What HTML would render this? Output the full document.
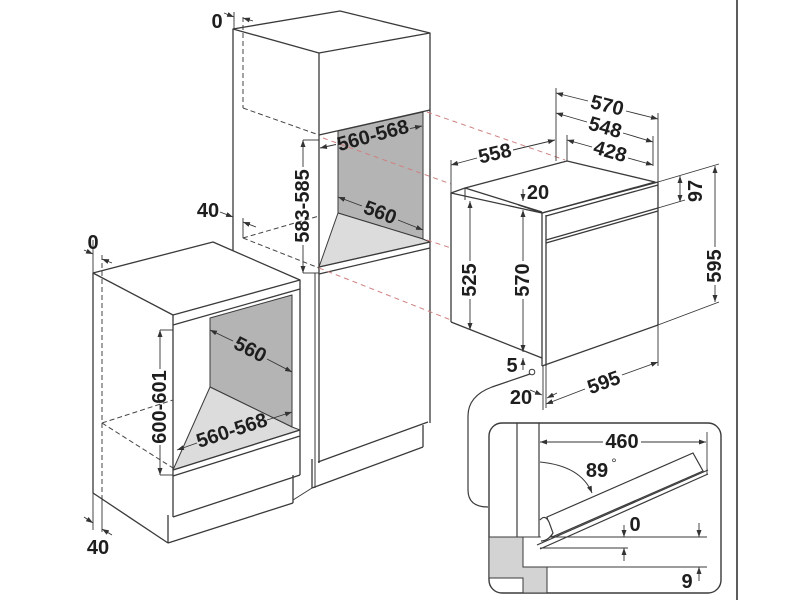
<!DOCTYPE html>
<html><head><meta charset="utf-8">
<style>html,body{margin:0;padding:0;background:#fff}svg{display:block}
text{font-family:"Liberation Sans",Arial,sans-serif;font-weight:bold;font-size:20px;fill:#1e1e1e;text-anchor:middle;dominant-baseline:central}
</style></head>
<body>
<svg width="800" height="600" viewBox="0 0 800 600" xmlns="http://www.w3.org/2000/svg">
<defs>
<marker id="a" viewBox="0 0 10 10" refX="10" refY="5" markerWidth="7" markerHeight="5" preserveAspectRatio="none" orient="auto-start-reverse" markerUnits="userSpaceOnUse"><path d="M0,0 L10,5 L0,10 z" fill="#333"/></marker>
<clipPath id="ic"><rect x="489" y="423" width="232" height="170" rx="13"/></clipPath>
</defs>
<rect width="800" height="600" fill="#fff"/>

<!-- TALL CABINET -->
<g fill="none" stroke="#3a3a3a" stroke-width="1.3" stroke-linejoin="round">
<polygon points="233,29 340,11 430,33 319,53" fill="#fff"/>
<line x1="233" y1="29" x2="233" y2="251"/>
<line x1="319" y1="53" x2="319" y2="463"/>
<line x1="315" y1="273" x2="315" y2="488" stroke-width="1"/>
<line x1="430" y1="33" x2="430" y2="423"/>
<line x1="319" y1="135" x2="430" y2="110"/>
<polygon points="338,131 423,112 423,239 338,213" fill="#b4b4b4" stroke-width="1"/>
<polygon points="338,213 423,239 430,242 319,267" fill="#dcdcdc" stroke-width="1"/>
<line x1="319" y1="267" x2="430" y2="242"/>
<line x1="319" y1="274" x2="430" y2="248"/>
<line x1="318" y1="462" x2="428" y2="422"/>
<line x1="312" y1="459" x2="312" y2="488"/>
<line x1="312" y1="488" x2="423" y2="447"/>
<line x1="423" y1="425" x2="423" y2="447"/>
</g>
<g fill="none" stroke="#444" stroke-width="1" stroke-dasharray="5,3">
<line x1="243" y1="17" x2="243" y2="108"/>
<line x1="243" y1="108" x2="319" y2="135"/>
<line x1="243" y1="238" x2="319" y2="216"/>
<line x1="243" y1="238" x2="319" y2="268"/>
</g>

<!-- LOWER CABINET -->
<g fill="none" stroke="#3a3a3a" stroke-width="1.3" stroke-linejoin="round">
<polygon points="93,273 213,242 300,280 173,315" fill="#fff"/>
<line x1="173" y1="315" x2="173" y2="517"/>
<line x1="173" y1="325" x2="300" y2="289"/>
<line x1="300" y1="280" x2="300" y2="475"/>
<line x1="93" y1="273" x2="93" y2="493"/>
<line x1="93" y1="493" x2="168" y2="543"/>
<polygon points="210,318 292,295 292,427 210,387" fill="#b4b4b4" stroke-width="1"/>
<polygon points="210,387 292,427 300,430 173,470" fill="#dcdcdc" stroke-width="1"/>
<line x1="173" y1="470" x2="300" y2="430"/>
<line x1="173" y1="476" x2="300" y2="436"/>
<line x1="173" y1="517" x2="300" y2="475"/>
<line x1="168" y1="515" x2="168" y2="543"/>
<line x1="168" y1="543" x2="293" y2="503"/>
<line x1="293" y1="475" x2="293" y2="503"/>
<line x1="293" y1="500" x2="312" y2="488" stroke-width="1"/>
</g>
<g fill="none" stroke="#444" stroke-width="1" stroke-dasharray="5,3">
<line x1="102" y1="255" x2="102" y2="497"/>
<line x1="102" y1="423" x2="173" y2="400"/>
<line x1="102" y1="423" x2="173" y2="468"/>
</g>

<!-- RED DASHED -->
<g fill="none" stroke="#cf8080" stroke-width="1" stroke-dasharray="5,4">
<line x1="427" y1="112" x2="565" y2="160"/>
<line x1="323" y1="138" x2="451" y2="184"/>
<line x1="427" y1="240" x2="451" y2="248"/>
<line x1="319" y1="268" x2="451" y2="320"/>
</g>

<!-- OVEN -->
<g fill="none" stroke="#3a3a3a" stroke-width="1.3" stroke-linejoin="round">
<polygon points="451,193 465,188 567,161 655,182 542,213" fill="#fff"/>
<line x1="465" y1="188" x2="542" y2="212"/>
<line x1="465" y1="188" x2="465" y2="200" stroke-width="1"/>
<line x1="451" y1="193" x2="451" y2="322"/>
<line x1="451" y1="322" x2="542" y2="358"/>
<line x1="542" y1="213" x2="542" y2="366"/>
<line x1="546" y1="215" x2="546" y2="366"/>
<line x1="542" y1="213" x2="658" y2="182"/>
<line x1="546" y1="216" x2="658" y2="185"/>
<line x1="546" y1="240" x2="658" y2="208"/>
<line x1="546" y1="243" x2="658" y2="211"/>
<line x1="658" y1="182" x2="658" y2="325"/>
<line x1="542" y1="366" x2="658" y2="325"/>
<circle cx="532" cy="372" r="2.8" fill="#fff" stroke-width="1"/>
</g>

<!-- DIMENSIONS -->
<g fill="none" stroke="#333" stroke-width="0.9">
<!-- tall 0 -->
<line x1="234" y1="12" x2="234" y2="29"/>
<line x1="224" y1="13" x2="234" y2="17" marker-end="url(#a)"/>
<line x1="253" y1="21" x2="243" y2="18" marker-end="url(#a)"/>
<!-- tall 40 -->
<line x1="243" y1="218" x2="243" y2="238"/>
<line x1="220" y1="212" x2="233" y2="217" marker-end="url(#a)"/>
<line x1="256" y1="227" x2="243" y2="222" marker-end="url(#a)"/>
<!-- 560-568 tall -->
<line x1="336" y1="144.5" x2="320" y2="148" marker-end="url(#a)"/>
<line x1="410" y1="128.6" x2="422" y2="126" marker-end="url(#a)"/>
<!-- 583-585 -->
<line x1="303" y1="167" x2="303" y2="140" marker-end="url(#a)"/>
<line x1="303" y1="245" x2="303" y2="273" marker-end="url(#a)"/>
<line x1="303" y1="140" x2="319" y2="140"/>
<line x1="303" y1="273" x2="319" y2="273"/>
<!-- 560 tall depth -->
<line x1="362" y1="206" x2="338" y2="197" marker-end="url(#a)"/>
<line x1="398" y1="220" x2="423" y2="230" marker-end="url(#a)"/>
<!-- lower 0 -->
<line x1="93" y1="240" x2="93" y2="273"/>
<line x1="84" y1="250" x2="93" y2="254" marker-end="url(#a)"/>
<line x1="112" y1="263" x2="102" y2="259" marker-end="url(#a)"/>
<!-- lower 40 -->
<line x1="93" y1="493" x2="93" y2="530"/>
<line x1="102" y1="497" x2="102" y2="532"/>
<line x1="84" y1="517" x2="93" y2="523" marker-end="url(#a)"/>
<line x1="112" y1="535" x2="102" y2="529" marker-end="url(#a)"/>
<!-- lower 560 -->
<line x1="233" y1="341" x2="210" y2="330" marker-end="url(#a)"/>
<line x1="267" y1="359" x2="292" y2="372" marker-end="url(#a)"/>
<!-- 600-601 -->
<line x1="160" y1="369" x2="160" y2="330" marker-end="url(#a)"/>
<line x1="160" y1="445" x2="160" y2="475" marker-end="url(#a)"/>
<line x1="160" y1="330" x2="173" y2="330"/>
<line x1="160" y1="475" x2="173" y2="475"/>
<!-- lower 560-568 -->
<line x1="197" y1="443" x2="177" y2="450" marker-end="url(#a)"/>
<line x1="267" y1="420" x2="292" y2="412" marker-end="url(#a)"/>

<!-- oven top dims -->
<line x1="556" y1="88" x2="556" y2="161"/>
<line x1="567" y1="135" x2="567" y2="161"/>
<line x1="658" y1="113" x2="658" y2="182"/>
<line x1="653" y1="136" x2="653" y2="166"/>
<line x1="451" y1="160" x2="451" y2="193"/>
<line x1="588" y1="101" x2="556" y2="93" marker-end="url(#a)"/>
<line x1="626" y1="111" x2="658" y2="119" marker-end="url(#a)"/>
<line x1="587" y1="122" x2="556" y2="113" marker-end="url(#a)"/>
<line x1="623" y1="133" x2="653" y2="142" marker-end="url(#a)"/>
<line x1="592" y1="147" x2="567" y2="140" marker-end="url(#a)"/>
<line x1="628" y1="158" x2="653" y2="165" marker-end="url(#a)"/>
<line x1="477" y1="158" x2="451" y2="165" marker-end="url(#a)"/>
<line x1="513" y1="150" x2="555" y2="140" marker-end="url(#a)"/>
<!-- 20 top -->
<line x1="523" y1="189" x2="523" y2="201" marker-end="url(#a)"/>
<line x1="518" y1="205" x2="542" y2="213"/>
<!-- 570 vertical -->
<line x1="523" y1="261" x2="523" y2="210" marker-end="url(#a)"/>
<line x1="523" y1="299" x2="523" y2="352" marker-end="url(#a)"/>
<!-- 525 -->
<line x1="470" y1="261" x2="470" y2="201" marker-end="url(#a)"/>
<line x1="470" y1="299" x2="470" y2="330" marker-end="url(#a)"/>
<!-- 5 -->
<line x1="523" y1="370" x2="523" y2="358" marker-end="url(#a)"/>
<!-- 20 bottom -->
<line x1="530" y1="390" x2="542" y2="395" marker-end="url(#a)"/>
<line x1="557" y1="393" x2="547" y2="398" marker-end="url(#a)"/>
<line x1="543" y1="366" x2="543" y2="410"/>
<line x1="546" y1="366" x2="546" y2="408"/>
<!-- 595 bottom -->
<line x1="658" y1="325" x2="658" y2="366"/>
<line x1="585" y1="389" x2="546" y2="404" marker-end="url(#a)"/>
<line x1="622" y1="375" x2="658" y2="362" marker-end="url(#a)"/>
<!-- 97 -->
<line x1="658" y1="182" x2="719" y2="164"/>
<line x1="658" y1="208" x2="685" y2="200"/>
<line x1="658" y1="325" x2="719" y2="302"/>
<line x1="680" y1="190" x2="680" y2="176" marker-end="url(#a)"/>
<line x1="680" y1="190" x2="680" y2="202" marker-end="url(#a)"/>
<!-- 595 right -->
<line x1="715" y1="247" x2="715" y2="166" marker-end="url(#a)"/>
<line x1="715" y1="285" x2="715" y2="302" marker-end="url(#a)"/>
</g>

<!-- leader + inset -->
<path d="M530,374 L492,387 Q468,396 468,416 L468,490 Q468,507 488,507" fill="none" stroke="#3a3a3a" stroke-width="1.2"/>
<rect x="489" y="423" width="232" height="170" rx="13" fill="#fff" stroke="#3a3a3a" stroke-width="1.4"/>
<g clip-path="url(#ic)">
<polygon points="489,537 523,537 523,567 547,567 547,593 523,593 523,578 489,578" fill="#d3d3d3" stroke="#3a3a3a" stroke-width="1"/>
<line x1="523" y1="578" x2="523" y2="593" stroke="#3a3a3a" stroke-width="1"/>
</g>
<g fill="none" stroke="#3a3a3a" stroke-width="1.2">
<line x1="517" y1="423" x2="517" y2="537"/>
<line x1="539" y1="423" x2="539" y2="537"/>
<line x1="489" y1="537" x2="707" y2="537" stroke-width="1"/>
<line x1="540" y1="548" x2="628" y2="548" stroke-width="1"/>
<line x1="547" y1="567" x2="707" y2="567" stroke-width="1"/>
<line x1="707" y1="432" x2="707" y2="475" stroke-width="0.9"/>
<polygon points="547,517 693,453 703,471 552,537" fill="#fff"/>
<line x1="537" y1="545" x2="708" y2="470"/>
<line x1="540" y1="549" x2="708" y2="474"/>
<path d="M540,520 Q545,514 549,522 L553,533 Q548,541 541,541" fill="#fff"/>
<path d="M540,462 Q581,466 592,493" stroke-width="1" marker-end="url(#a)"/>
</g>
<g fill="none" stroke="#333" stroke-width="0.9">
<line x1="603" y1="442" x2="540" y2="442" marker-end="url(#a)"/>
<line x1="641" y1="442" x2="706" y2="442" marker-end="url(#a)"/>
<line x1="624" y1="525" x2="624" y2="537" marker-end="url(#a)"/>
<line x1="624" y1="561" x2="624" y2="548" marker-end="url(#a)"/>
<line x1="699" y1="523" x2="699" y2="537" marker-end="url(#a)"/>
<line x1="699" y1="581" x2="699" y2="567" marker-end="url(#a)"/>
</g>

<!-- right border line -->
<line x1="737" y1="0" x2="737" y2="600" stroke="#333" stroke-width="1.6"/>

<!-- TEXT -->
<text x="217" y="22">0</text>
<text x="208" y="211">40</text>
<text transform="translate(373,136) rotate(-15)">560-568</text>
<text transform="translate(303,206) rotate(-90)">583-585</text>
<text transform="translate(380,213) rotate(21)">560</text>

<text x="93" y="243">0</text>
<text transform="translate(250,350) rotate(27)">560</text>
<text transform="translate(160,407) rotate(-90)">600-601</text>
<text transform="translate(232,431) rotate(-18)">560-568</text>
<text x="98" y="548">40</text>

<text transform="translate(607,106) rotate(14)">570</text>
<text transform="translate(605,128) rotate(16)">548</text>
<text transform="translate(610,152) rotate(16)">428</text>
<text transform="translate(495,154) rotate(-13)">558</text>
<text x="538" y="193">20</text>
<text transform="translate(696,191) rotate(-90)">97</text>
<text transform="translate(523,280) rotate(-90)">570</text>
<text transform="translate(470,280) rotate(-90)">525</text>
<text transform="translate(715,266) rotate(-90)">595</text>
<text x="512" y="366">5</text>
<text x="521" y="398">20</text>
<text transform="translate(604,383) rotate(-20)">595</text>

<text x="622" y="442">460</text>
<text x="597" y="471">89</text>
<text x="614" y="463" style="font-size:13px;font-weight:normal">°</text>
<text x="635" y="525">0</text>
<text x="687" y="582">9</text>
</svg>
</body></html>
